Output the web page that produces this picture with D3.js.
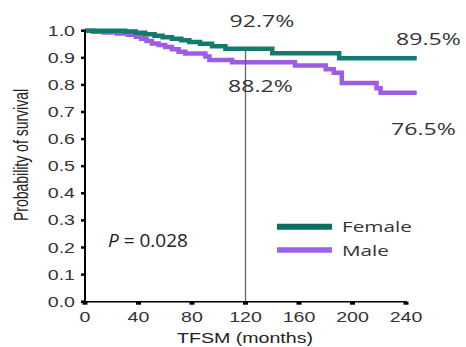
<!DOCTYPE html>
<html><head><meta charset="utf-8">
<script src="https://cdn.jsdelivr.net/npm/d3@7"></script>
<style>html,body{margin:0;padding:0;background:#fff;}svg{display:block;}</style>
</head><body>
<svg id="c" width="466" height="347"></svg>
<script>
// ---- data ----
const seriesNames = ["Female", "Male"];
const femaleSteps = [[0,1],[30,0.997],[38,0.992],[45,0.987],[52,0.981],[58,0.976],[65,0.970],[72,0.965],[78,0.958],[86,0.952],[95,0.943],[105,0.933],[140,0.917],[190,0.898]];
const maleSteps = [[0,1],[6,0.996],[14,0.993],[24,0.990],[32,0.985],[38,0.978],[42,0.970],[46,0.962],[50,0.953],[55,0.947],[60,0.940],[65,0.932],[70,0.922],[75,0.916],[90,0.905],[93,0.892],[110,0.884],[157,0.872],[180,0.858],[186,0.845],[192,0.807],[218,0.788],[221,0.771]];
const followUpEnd = 248;
const xTicks = [0,40,80,120,160,200,240];
const yTicks = [0,0.1,0.2,0.3,0.4,0.5,0.6,0.7,0.8,0.9,1.0];
const landmark = 120;
const annotations = ["92.7%","89.5%","88.2%","76.5%"];
const pText = "0.028";
const xTitle = "TFSM (months)";
const yTitle = "Probability of survival";

// ---- layout ----
const svg = d3.select("#c");
const SX = 1.4;
const x = d3.scaleLinear().domain([0,240]).range([85,406]);
const y = d3.scaleLinear().domain([0,1]).range([301.7,30.7]);
const colors = {Female:"#137a6d", Male:"#9c5ce6"};
const legendColors = {Female:"#0f6e62", Male:"#9b62ee"};

function stretchedText(px, py, str, opts){
  const g = svg.append("g").attr("transform", `translate(${px},${py}) scale(${opts.sx||SX},1)`);
  const t = g.append("text").attr("x",0).attr("y",0)
    .attr("text-anchor", opts.anchor||"start")
    .attr("font-family", opts.family||"'Liberation Sans', Arial, sans-serif")
    .attr("font-size", opts.size||14)
    .attr("fill", opts.fill||"#333")
    .text(str);
  return t;
}

// curves
const line = d3.line().x(d=>x(d[0])).y(d=>y(d[1])).curve(d3.curveStepAfter);
function withEnd(steps){ return steps.concat([[followUpEnd, steps[steps.length-1][1]]]); }
svg.append("path").datum(withEnd(maleSteps)).attr("d",line)
  .attr("fill","none").attr("stroke",colors.Male).attr("stroke-width",4.5);
svg.append("path").datum(withEnd(femaleSteps)).attr("d",line)
  .attr("fill","none").attr("stroke",colors.Female).attr("stroke-width",4.5);

// landmark line
svg.append("line").attr("x1",x(landmark)).attr("x2",x(landmark))
  .attr("y1",y(0.94)).attr("y2",y(0)).attr("stroke","#666").attr("stroke-width",1.3);

// axes
svg.append("line").attr("x1",x(0)).attr("x2",x(0)).attr("y1",y(0)+1).attr("y2",y(1)-1)
  .attr("stroke","#000").attr("stroke-width",2);
svg.append("line").attr("x1",x(0)-1).attr("x2",x(240)+1).attr("y1",y(0)).attr("y2",y(0))
  .attr("stroke","#000").attr("stroke-width",1.6);
yTicks.forEach(v=>{
  svg.append("line").attr("x1",x(0)-4).attr("x2",x(0)).attr("y1",y(v)).attr("y2",y(v))
    .attr("stroke","#000").attr("stroke-width",2.5);
  stretchedText(75, y(v)+5, d3.format(".1f")(v), {anchor:"end", size:14});
});
xTicks.forEach(v=>{
  svg.append("line").attr("x1",x(v)-2.5).attr("x2",x(v)+2.5).attr("y1",y(0)+1.5).attr("y2",y(0)+1.5)
    .attr("stroke","#000").attr("stroke-width",3);
  stretchedText(x(v), 321.7, String(v), {anchor:"middle", size:14});
});
stretchedText(245, 343, xTitle, {anchor:"middle", size:14, fill:"#222"});
svg.append("g").attr("transform",`translate(28,155) scale(${SX},1) rotate(-90)`)
  .append("text").attr("text-anchor","middle")
  .attr("font-family","'Liberation Sans', Arial, sans-serif").attr("font-size",14).attr("fill","#222")
  .text(yTitle);

// annotations
const annoFont = "'Open Sans', sans-serif";
const annoPos = [[262,26.7],[428.5,45],[260.5,91.7],[423.5,135]];
annotations.forEach((a,i)=>stretchedText(annoPos[i][0], annoPos[i][1], a, {anchor:"middle", size:16.5, family:annoFont, fill:"#333"}));

// p value
const pt = svg.append("text").attr("x",108).attr("y",246.7)
  .attr("font-family",annoFont).attr("font-size",19).attr("fill","#222");
pt.append("tspan").attr("font-style","italic").text("P");
pt.append("tspan").text(" = " + pText);

// legend
seriesNames.forEach((s,i)=>{
  const ly = i===0 ? 226.7 : 250;
  svg.append("line").attr("x1",277).attr("x2",332).attr("y1",ly).attr("y2",ly)
    .attr("stroke",legendColors[s]).attr("stroke-width", i===0?6:5.5);
  stretchedText(342, ly+5.5, s, {size:15, family:annoFont, fill:"#333", sx:1.38});
});
</script>
</body></html>
